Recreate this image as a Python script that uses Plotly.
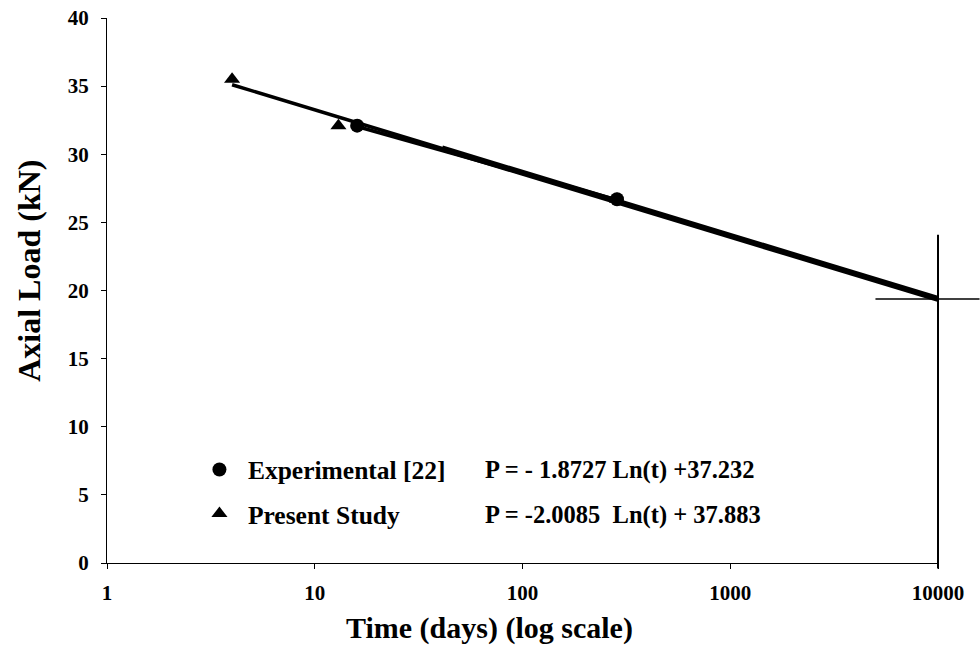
import numpy as np
import plotly.graph_objects as go

# ---- data ----
exp_t = [16, 285]
exp_p = [32.1, 26.7]
pres_t = [4, 13, 285]
pres_p = [35.5, 32.1, 26.7]

# trend-line equations shown on the chart
exp_a, exp_b = -1.8727, 37.232
pres_a, pres_b = -2.0085, 37.883
exp_span = [16, 285]
pres_span = [4, 10000]
thick_span = [41, 10000]

# crosshair marking the prediction at t = 10000
cross_t = 10000
cross_p = pres_a * np.log(cross_t) + pres_b

x_ticks = [1, 10, 100, 1000, 10000]
y_ticks = [0, 5, 10, 15, 20, 25, 30, 35, 40]

FONT = "Liberation Serif"
XR = [0, 4]
YR = [0, 40]


def trend(a, b, span, n=60):
    t = np.logspace(np.log10(span[0]), np.log10(span[1]), n)
    return t, a * np.log(t) + b


fig = go.Figure()

t, p = trend(pres_a, pres_b, pres_span)
fig.add_trace(go.Scatter(x=t, y=p, mode="lines", line=dict(color="black", width=3.5),
                         showlegend=False, hoverinfo="skip"))
t, p = trend(pres_a, pres_b, thick_span)
fig.add_trace(go.Scatter(x=t, y=p, mode="lines", line=dict(color="black", width=6),
                         showlegend=False, hoverinfo="skip"))
t, p = trend(exp_a, exp_b, exp_span)
fig.add_trace(go.Scatter(x=t, y=p, mode="lines", line=dict(color="black", width=3.5),
                         showlegend=False, hoverinfo="skip"))

fig.add_trace(go.Scatter(x=exp_t, y=exp_p, mode="markers", name="Experimental [22]",
                         legendgroup="a",
                         marker=dict(symbol="circle", size=14, color="black")))
fig.add_trace(go.Scatter(x=pres_t, y=pres_p, mode="markers", name="Present Study",
                         legendgroup="b",
                         marker=dict(symbol="triangle-up", size=14, color="black")))


def px(t):
    return (np.log10(t) - XR[0]) / (XR[1] - XR[0])


def py(v):
    return (v - YR[0]) / (YR[1] - YR[0])


cx = px(cross_t)
cy = py(cross_p)
fig.add_shape(type="line", xref="paper", yref="paper",
              x0=px(cross_t / 2), x1=px(cross_t * 10 ** 0.2), y0=cy, y1=cy,
              line=dict(color="black", width=1.5))
fig.add_shape(type="line", xref="paper", yref="paper",
              x0=cx, x1=cx, y0=py(-0.4), y1=py(24.1),
              line=dict(color="black", width=2))

fig.add_annotation(text="P = - 1.8727 Ln(t) +37.232", xref="paper", yref="paper",
                   x=0.4525, y=0.1706, xanchor="left", yanchor="middle", showarrow=False,
                   font=dict(family=FONT, size=24.5, color="black", weight="bold"))
fig.add_annotation(text="P = -2.0085  Ln(t) + 37.883", xref="paper", yref="paper",
                   x=0.4525, y=0.088, xanchor="left", yanchor="middle", showarrow=False,
                   font=dict(family=FONT, size=24.5, color="black", weight="bold"))

# axis titles (placed as in the reference, slightly off-centre)
fig.add_annotation(text="Time (days) (log scale)", xref="paper", yref="paper",
                   x=0.46, y=-0.119, xanchor="center", yanchor="middle", showarrow=False,
                   font=dict(family=FONT, size=30, color="black", weight="bold"))
fig.add_annotation(text="Axial Load (kN)", xref="paper", yref="paper", textangle=-90,
                   x=-0.094, y=0.536, xanchor="center", yanchor="middle", showarrow=False,
                   font=dict(family=FONT, size=32, color="black", weight="bold"))

fig.update_layout(
    width=980, height=654,
    margin=dict(l=107, r=42, t=18, b=91),
    paper_bgcolor="white", plot_bgcolor="white",
    font=dict(family=FONT, color="black"),
    legend=dict(x=0.101, y=0.214, xanchor="left", yanchor="top",
                bgcolor="rgba(0,0,0,0)", tracegroupgap=8, itemwidth=47,
                font=dict(family=FONT, size=25.5, color="black", weight="bold")),
    xaxis=dict(type="log", range=XR, tickvals=x_ticks, ticktext=[str(v) for v in x_ticks],
               showgrid=False, zeroline=False, showline=True, linecolor="black", linewidth=1,
               ticks="outside", ticklen=5, tickcolor="black", ticklabelstandoff=6,
               automargin=False,
               tickfont=dict(family=FONT, size=21, weight="bold")),
    yaxis=dict(range=YR, tickvals=y_ticks, showgrid=False, zeroline=False,
               showline=True, linecolor="black", linewidth=1,
               ticks="outside", ticklen=5, tickcolor="black", ticklabelstandoff=8,
               automargin=False,
               tickfont=dict(family=FONT, size=21, weight="bold")),
)

fig.write_html("out.html")
